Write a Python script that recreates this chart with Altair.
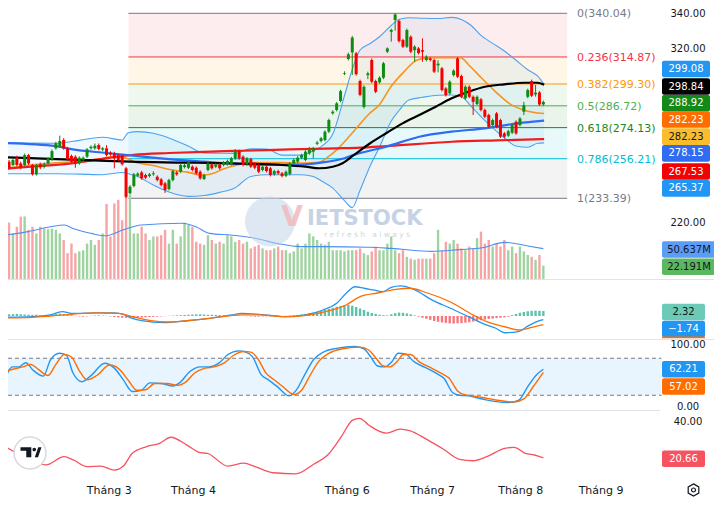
import altair as alt
import pandas as pd

# ---------------- candles (one per trading session) ----------------
OPEN = [254.5,252.6,256.8,253.5,252.6,258.3,252.6,247.2,253.0,251.6,
        253.5,255.8,262.2,263.1,267.0,262.2,257.8,257.4,253.5,255.5,
        257.4,262.2,262.2,264.1,261.4,262.2,259.7,259.3,258.3,257.9,
        250.7,236.3,240.5,246.4,248.3,246.8,246.2,247.2,245.8,244.3,
        242.0,238.7,243.9,248.3,248.7,251.4,251.0,251.6,251.0,248.7,
        244.5,249.7,253.0,251.6,253.0,252.6,253.0,253.0,256.4,260.6,
        257.4,253.0,256.0,253.5,252.6,249.7,251.6,250.7,247.2,249.1,
        247.8,246.4,247.4,253.5,254.5,256.8,255.5,259.3,260.3,264.8,
        266.4,267.0,271.8,282.4,284.3,289.5,305.2,313.7,317.5,317.0,
        301.0,286.0,304.4,313.1,301.0,300.2,302.9,317.9,329.4,336.2,
        335.6,324.6,320.8,326.5,318.8,319.8,318.8,313.1,314.0,313.1,
        310.0,308.3,296.7,293.9,304.4,314.0,303.9,291.0,297.7,291.9,
        287.7,290.4,284.3,281.4,275.6,282.3,278.5,270.8,269.5,271.2,
        277.5,275.6,283.3,291.9,301.0,293.3,294.4,287.5]
HIGH = [255.5,256.5,258.0,254.5,259.2,259.0,253.2,253.2,254.0,254.0,
        257.2,261.5,266.0,269.5,268.0,263.0,258.6,258.2,257.6,257.5,
        262.4,263.9,265.0,265.0,263.0,264.0,260.5,260.2,259.2,258.7,
        251.5,241.0,248.0,248.4,249.2,247.6,248.0,249.0,246.6,245.1,
        242.8,244.7,249.9,249.1,253.4,253.2,254.9,252.4,251.8,249.5,
        247.6,254.3,253.8,253.8,253.8,254.9,255.7,257.2,261.8,261.4,
        258.2,257.2,256.8,254.3,253.4,252.4,252.4,251.5,249.9,249.9,
        248.6,249.5,254.3,256.3,257.6,259.1,261.1,263.0,263.0,266.5,
        268.8,272.6,279.3,284.1,288.9,296.0,306.6,317.4,327.0,317.8,
        301.8,298.5,306.4,314.0,301.8,303.7,312.0,320.4,331.2,340.04,
        336.4,325.4,331.2,327.3,321.6,320.6,325.6,315.8,314.8,313.9,
        313.0,309.1,297.5,301.4,307.8,314.8,304.7,298.5,298.5,292.7,
        292.7,291.2,285.1,282.2,279.3,283.1,279.3,271.6,272.9,276.4,
        278.3,280.2,289.0,296.6,301.8,298.7,295.2,289.7]
LOW = [249.8,252.0,251.8,250.2,251.9,252.6,246.5,246.5,250.2,250.6,
       252.9,255.0,261.4,262.4,261.4,255.0,253.7,251.0,252.7,254.7,
       256.6,261.4,261.4,261.0,260.6,257.5,257.9,250.7,254.7,252.2,
       233.39,235.5,239.7,245.6,244.1,244.5,245.4,246.4,243.1,240.2,
       236.5,237.9,243.1,246.4,247.9,250.6,250.2,248.9,247.0,244.1,
       243.9,248.9,249.9,250.8,249.9,251.8,252.2,252.2,255.6,255.6,
       251.8,252.2,250.8,250.2,247.9,248.9,248.3,246.0,246.4,247.0,
       245.4,245.6,246.6,252.7,253.7,256.0,254.7,258.5,256.4,264.0,
       265.6,266.2,271.0,281.6,283.5,288.7,304.4,312.9,304.5,304.1,
       292.2,285.2,302.1,299.8,294.0,299.4,302.1,317.1,323.7,330.0,
       323.2,320.0,320.0,317.1,312.1,316.3,312.1,312.3,312.3,305.6,
       306.0,295.0,292.1,293.1,303.6,302.7,291.1,290.2,291.1,281.4,
       286.9,283.5,279.6,273.8,274.8,273.8,268.1,267.9,268.7,270.4,
       270.0,274.8,281.4,291.1,291.7,292.0,286.7,286.7]
CLOSE = [250.7,255.5,252.6,251.0,258.3,253.5,247.2,252.6,251.2,253.0,
         256.4,260.6,265.1,266.4,262.2,255.8,254.5,253.5,256.8,256.8,
         261.6,263.1,263.7,261.8,262.2,258.3,258.7,256.4,255.5,253.0,
         234.3,240.1,247.2,247.6,244.9,245.3,247.2,247.8,243.9,241.0,
         238.2,243.9,249.1,247.2,252.6,252.4,254.1,249.7,247.8,244.9,
         246.8,253.5,250.7,253.0,250.7,254.1,254.9,256.4,260.3,256.4,
         252.6,256.4,251.6,251.0,248.7,251.6,249.1,246.8,249.1,247.8,
         246.2,248.7,253.5,255.5,256.8,258.3,260.3,261.2,262.2,265.5,
         268.0,271.8,278.5,283.3,288.1,295.2,305.6,316.4,326.0,304.9,
         293.0,297.7,305.4,300.6,294.8,302.9,311.2,319.8,330.4,339.4,
         324.0,320.8,330.4,317.9,320.8,317.1,317.9,315.0,313.1,306.4,
         311.0,295.8,292.9,300.6,307.0,303.5,291.9,297.7,291.9,289.0,
         291.9,284.3,280.4,274.6,278.5,274.6,268.9,268.9,272.1,275.6,
         270.8,279.4,287.1,295.8,292.5,294.3,287.5,288.92]
VOLUME_M = [94,76,87,104,104,82,87,76,87,84,
            83,84,82,76,65,43,59,43,46,48,
            59,65,57,65,76,125,71,126,132,98,
            140,140,76,76,87,76,65,71,71,73,
            82,59,82,59,71,94,90,87,62,59,
            57,73,65,59,62,59,73,71,62,65,
            59,62,51,54,57,51,48,48,51,54,
            48,48,43,46,59,51,59,76,71,65,
            59,57,62,48,48,48,46,48,48,48,
            51,43,40,46,54,48,48,59,71,48,
            43,48,37,34,32,34,34,34,34,43,
            82,48,62,59,65,59,51,48,54,51,
            68,79,59,65,54,59,54,65,48,54,
            43,54,46,40,37,32,40,22.191]
MACD_HIST = [0.8,0.9,1.0,0.8,0.7,0.6,0.5,0.6,0.4,0.3,
             0.5,0.8,1.0,1.1,0.9,0.6,0.3,0.1,-0.2,-0.3,
             -0.2,0.1,0.2,0.3,0.2,0.1,-0.2,-0.5,-0.7,-0.8,
             -0.9,-1.0,-0.9,-0.8,-0.7,-0.6,-0.5,-0.4,-0.3,-0.2,
             -0.1,0.1,0.2,0.3,0.4,0.5,0.6,0.7,0.8,0.8,
             0.7,0.6,0.6,0.5,0.4,0.3,0.3,0.2,0.2,0.1,
             0.05,-0.1,-0.2,-0.3,-0.3,-0.2,-0.2,-0.3,-0.3,-0.2,
             -0.1,0.1,0.2,0.3,0.5,0.7,0.9,1.2,1.5,1.9,
             2.3,2.8,3.3,3.8,4.3,4.7,5.0,5.2,4.8,4.2,
             3.5,2.8,2.0,1.4,1.0,0.6,0.4,0.3,0.8,1.3,
             1.6,1.5,1.2,0.8,0.3,-0.3,-0.8,-1.3,-1.8,-2.3,
             -2.7,-3.0,-3.2,-3.4,-3.5,-3.4,-3.3,-3.1,-2.9,-2.6,
             -2.3,-2.0,-1.7,-1.4,-1.2,-1.0,-0.8,-0.6,-0.3,0.4,
             1.0,1.5,1.9,2.2,2.4,2.5,2.4,2.32]

# ---------------- indicator lines: bar position, value ----------------
BB_X = [-1,5,12,18,24,29,30.6,33,37,41,46,50,54,58,62,66,70,75,78,80,83,86,88,90,
        92.5,95,98,100,102.5,106,110,113.5,116,118.5,121,124,127,130,133,135.5,137.2]
BB_UPPER = [265.4,265.2,265.1,266.8,268.6,267.0,271.2,271.8,270.9,268.2,263.4,259.5,259.4,
            259.3,261.9,261.8,258.3,258.3,260.8,263.2,270.4,292.5,307.7,318.9,322.5,326.5,
            333.0,336.5,337.5,337.2,337.0,337.7,336.5,333.0,327.3,322.7,318.3,313.0,307.5,
            304.0,299.08]
BB_LOWER = [247.5,247.5,247.5,247.3,247.0,248.3,247.5,246.0,241.0,237.0,234.5,235.0,236.8,
            239.5,246.0,247.0,247.0,247.0,246.0,243.5,239.3,232.0,228.0,238.0,251.6,263.0,
            278.0,284.0,290.0,291.6,292.8,292.9,291.9,286.4,280.5,274.0,268.3,263.5,262.8,
            265.1,265.37]
BASIS_X = [-1,7.3,16,24.3,26.8,30,32.6,37,41.2,45.7,49.5,52,54.6,58.4,62.2,69.8,73.6,79.4,
           81.9,84.4,88,92.3,94.9,98,101.3,104.6,108,115.7,118.2,120.8,124.9,128.3,131.7,137.2]
BASIS = [250.7,253.0,254.5,256.4,257.4,256.5,254.0,252.3,250.0,248.5,246.8,247.5,250.0,252.6,
         254.0,254.0,253.7,254.2,257.4,262.2,271.0,282.0,287.2,298.0,306.4,313.1,314.5,314.5,
         309.5,303.5,294.5,288.0,284.5,282.23]
MA_BLACK_X = [-1,12,25,31,45,57,70,76,79.5,83,85.5,88.2,92.5,96.7,100.9,105.2,109.4,113.5,
              117.8,122,127,132.1,135.5,137.2]
MA_BLACK = [257.0,256.0,255.0,254.5,254.0,253.5,252.6,251.6,250.7,251.6,253.6,258.0,265.0,
            270.9,276.6,281.4,286.2,291.0,294.8,297.7,299.1,300.0,300.0,298.84]
MA_BLUE_X = [-1,12,16,25,33,41,50,58,66,74,80,86,88.2,96.7,105.2,113.5,122,130.4,137.2]
MA_BLUE = [265.3,263.5,261.7,259.5,257.7,256.0,254.5,253.3,252.8,252.8,254.0,256.5,258.3,
           263.1,268.9,271.8,273.7,276.6,278.15]
MA_RED_X = [-1,8,16,25,32,41,50,58,66,75,84,90,96.7,113.5,125,137.2]
MA_RED = [250.5,252.0,253.5,256.5,258.5,259.5,260.2,260.7,261.2,261.7,262.2,262.6,263.5,
          266.0,266.8,267.53]
VOL_MA_X = [-1,4.8,10.6,14.2,16.4,21.1,24.6,29.3,33.9,44.4,47.9,51.4,57.2,63.1,68.9,74.7,
            80.5,92.2,98,108.5,115.5,121.3,127.1,133,137]
VOL_MA = [73,79,87,90,84,76,72,82,90,93,87,76,73,68,59,54,54,53,51,46,49,52,61,55,50.637]
MACD_X = [-1,6,10.6,13.6,16.5,22.3,27,29.3,31.6,34,39.8,45.6,51.4,57.2,59.6,64.2,71.2,75.9,
          80.5,84,86.4,88.7,91,93.4,95.7,98,100.3,103.8,108.5,113.2,117.8,122.5,124.8,127.1,
          130.6,133,135.3,137]
MACD_LINE = [-0.6,-0.3,0.5,2.0,1.2,1.5,1.5,0.8,-1.1,-2.2,-3.1,-2.2,-1.1,0.5,1.2,0.8,-0.3,0.5,
             2.8,5.9,10.5,13.6,12.9,12.1,11.3,13.3,14.0,12.4,7.4,3.6,-0.3,-4.2,-5.7,-7.8,
             -7.3,-4.7,-2.6,-1.74]
SIGNAL_X = [-1,6,10.6,16.5,22.3,28.1,31.6,36.3,40.9,45.6,51.4,59.6,64.2,71.2,78.2,82.9,86.4,
            89.9,94.5,99.2,102.7,107.3,113.2,119,122.5,127.1,130.6,134.1,137]
SIGNAL = [-0.9,-0.6,0.0,0.9,1.5,1.2,-0.3,-2.2,-2.8,-2.2,-1.1,0.5,0.5,-0.3,0.9,2.8,5.1,8.9,
          10.7,12.4,12.9,10.7,6.5,0.5,-2.6,-5.0,-6.5,-5.3,-4.06]
K_X = [-0.4,0.8,2.5,4.3,6.1,8.8,10.6,12.9,14.7,16.4,18.7,21.2,24.5,27,29.3,31.6,33.9,36.1,
       39.2,42,43.7,46.3,49,51.3,53.8,56.1,58.9,60.7,62.4,64.7,66.5,68.8,71.8,73.6,75.8,78.1,
       80.6,83.9,88.7,91,92.8,94.5,96.3,98.1,99.8,101.6,103.9,106.7,109.7,111.5,113.8,115.5,
       117.8,121.3,124.9,128.2,130.7,133,135.2,137]
STOCH_K = [55.6,66,66,72.8,61,51,77,88,85,56,42,53,72,64,45,26,28,40,39,35,40,58,66,66,72,86,
           92,90,82.6,53,45,34,19,28,53,78,90,96,99,95,81.6,67.5,66,74,88,87,74,65,55,47.5,24,
           20,19,14,9.6,8,12,34,53,62.21]
D_X = [-0.4,1.5,3.5,5.5,7.5,10,12,14.2,16,18,20,22.5,25.8,28.3,30.6,32.8,35,37.4,40.5,43.3,
       45,47.6,50.3,52.6,55.1,57.4,60.2,62,63.7,66,67.8,70,73.1,75,77,79.4,82,85.2,90,92.3,94,
       95.8,97.6,99.4,101.1,102.9,105.2,108,111,112.8,115,116.8,119,122.6,126.2,129.5,132,
       134.3,137]
STOCH_D = [60,63,66,70,62,52,70,86,82,60,45,52,69,62,44,28,29,39,39,36,40,56,64,66,72,84,91,90,
           80,55,46,35,21,28,50,75,88,95,98,93,81,68,66,74,86,86,74,65,55,48,27,21,19,15,11,9,
           14,33,57.02]
ADX_X = [-1,1.3,4.2,9.5,14.1,16.5,20,23.5,27,29.3,31.6,35.1,38.6,41.5,45.6,49.1,50.8,56.1,
         60.2,63.1,67.7,73.5,78.2,81.7,85.2,88.1,89.9,92.2,96.8,100.3,102.7,107.3,111.4,115.5,
         119,122.5,127.1,129.5,132.4,134.7,137]
ADX = [26.5,23.9,20.5,17,21.3,19.6,16.1,16.4,14.3,16.4,23.1,26.5,28.3,31.5,27.4,23.4,23.1,
       16.4,17.9,16.1,12.9,12.3,17.5,22.2,31.8,40.5,41.4,37.9,33.6,35.7,34.9,30.1,25.2,19.9,
       19.2,21.3,25.7,26.2,23.1,22.2,20.66]

# ---------------- fibonacci drawing ----------------
FIB_HIGH, FIB_LOW = 340.04, 233.39
FIB_RATIOS = [0, 0.236, 0.382, 0.5, 0.618, 0.786, 1]
FIB_COLORS = ["#787b86", "#f23645", "#ff9800", "#4caf50", "#138a24", "#00bcd4", "#787b86"]
FIB_X0, FIB_X1 = 30.6, 143.1

# ---------------- axis text ----------------
MONTHS = ["Tháng 3", "Tháng 4", "Tháng 6", "Tháng 7", "Tháng 8", "Tháng 9"]
MONTH_POS = [25.7, 47.3, 86.7, 108.6, 131.2, 151.8]
PRICE_TICKS = [340, 320, 220]
STOCH_TICKS = [100, 0]
ADX_TICKS = [40]

PRICE_TAGS = ["299.08", "298.84", "288.92", "282.23", "282.23", "278.15", "267.53", "265.37"]
VOL_TAGS = ["50.637M", "22.191M"]
MACD_TAGS = ["2.32", "\u22121.74"]
STOCH_TAGS = ["62.21", "57.02"]
ADX_TAGS = ["20.66"]

for arr in (HIGH, LOW, CLOSE, VOLUME_M, MACD_HIST):
    assert len(arr) == len(OPEN), len(arr)

# ---------------- layout ----------------
OFF = 8                  # page margin
W, H = 706, 489
X0_REF, STEP = 4.0, 3.956
FONT = "DejaVu Sans"
GREEN, RED = "#0e8c12", "#f40000"


def R(v):
    return v - OFF


xs = alt.Scale(domain=[(OFF - X0_REF) / STEP, (W + OFF - X0_REF) / STEP], nice=False, zero=False)
ps = alt.Scale(domain=[FIB_LOW, FIB_HIGH], range=[R(198.3), R(13.3)], nice=False, zero=False)
vs = alt.Scale(domain=[0, 100], range=[R(279), R(219)], nice=False, zero=False)
ms = alt.Scale(domain=[-10, 15], range=[R(337.5), R(283.75)], nice=False, zero=False)
ss = alt.Scale(domain=[0, 100], range=[R(407.6), R(345.9)], nice=False, zero=False)
ascale = alt.Scale(domain=[10, 40], range=[R(478.3), R(421)], nice=False, zero=False)


def X(f):
    return alt.X(f + ":Q", scale=xs, axis=None)


def Y(f, s):
    return alt.Y(f + ":Q", scale=s, axis=None)


def line(xv, yv, s, color, width, dash=None):
    df = pd.DataFrame({"i": xv, "v": yv})
    kw = dict(color=color, strokeWidth=width, interpolate="monotone")
    if dash:
        kw["strokeDash"] = dash
    return alt.Chart(df).mark_line(**kw).encode(x=X("i"), y=Y("v", s))


layers = []

# candles table
cdf = pd.DataFrame({"i": list(range(len(OPEN))), "o": OPEN, "h": HIGH, "l": LOW, "c": CLOSE,
                    "vol": VOLUME_M, "hist": MACD_HIST})
cdf["zero"] = 0.0
up = cdf["c"] >= cdf["o"]
cdf["col"] = [GREEN if u else RED for u in up]
cdf["vcol"] = ["#9fd3a0" if u else "#f6a4a6" for u in up]
cdf["hcol"] = ["#5cc2ad" if v >= 0 else "#f7777c" for v in cdf["hist"]]

# fibonacci
levels = [FIB_HIGH - r * (FIB_HIGH - FIB_LOW) for r in FIB_RATIOS]
fib = pd.DataFrame({"lv": levels, "color": FIB_COLORS,
                    "label": [f"{r:g}({p + 1e-7:.2f})" for r, p in zip(FIB_RATIOS, levels)],
                    "x0": FIB_X0, "x1": FIB_X1})
bands = pd.DataFrame({"hi": levels[:-1], "lo": levels[1:], "color": FIB_COLORS[1:],
                      "x0": FIB_X0, "x1": FIB_X1})
layers.append(alt.Chart(bands).mark_rect(opacity=0.09).encode(
    x=X("x0"), x2="x1", y=Y("hi", ps), y2="lo", color=alt.Color("color:N", scale=None)))

# bollinger fill
bb = pd.DataFrame({"i": BB_X, "up": BB_UPPER, "lo": BB_LOWER})
layers.append(alt.Chart(bb).mark_area(color="#2196f3", opacity=0.07, interpolate="monotone").encode(
    x=X("i"), y=Y("up", ps), y2="lo"))

# fib lines
layers.append(alt.Chart(fib).mark_rule(strokeWidth=1).encode(
    x=X("x0"), x2="x1", y=Y("lv", ps), color=alt.Color("color:N", scale=None)))

# volume
layers.append(alt.Chart(cdf).mark_bar(size=2.4).encode(
    x=X("i"), y=Y("vol", vs), y2="zero", color=alt.Color("vcol:N", scale=None)))
layers.append(line(VOL_MA_X, VOL_MA, vs, "#4b8ff0", 1.1))

# watermark
wm = pd.DataFrame({"a": [0]})
layers.append(alt.Chart(wm).mark_point(shape="circle", filled=True, size=2500, color="#c3d5ea",
                                       opacity=0.55).encode(x=alt.value(R(270)), y=alt.value(R(221.5))))
layers.append(alt.Chart(wm).mark_text(text="V", font=FONT, fontWeight="bold", fontSize=28,
                                      color="#f3b5b8", opacity=0.8).encode(
    x=alt.value(R(292)), y=alt.value(R(218))))
layers.append(alt.Chart(wm).mark_text(text="IETSTOCK", font=FONT, fontWeight="bold", fontSize=21,
                                      color="#c6d3e5", align="left", baseline="middle").encode(
    x=alt.value(R(307)), y=alt.value(R(219))))
layers.append(alt.Chart(wm).mark_text(text="\u00a0".join("refresh") + "\u00a0\u00a0\u00a0" + "\u00a0".join("always"),
                                      font=FONT, fontSize=7.5,
                                      color="#cfd6df", align="center", baseline="middle").encode(
    x=alt.value(R(367)), y=alt.value(R(235))))

# bands and moving averages
layers.append(line(BB_X, BB_UPPER, ps, "#4da3ef", 1.1))
layers.append(line(BB_X, BB_LOWER, ps, "#4da3ef", 1.1))
layers.append(line(BASIS_X, BASIS, ps, "#f7931e", 1.6))
layers.append(line(MA_RED_X, MA_RED, ps, "#f01d1d", 2.2))
layers.append(line(MA_BLUE_X, MA_BLUE, ps, "#2f6cf2", 2.2))
layers.append(line(MA_BLACK_X, MA_BLACK, ps, "#000000", 2.2))

# candles
layers.append(alt.Chart(cdf).mark_rule(strokeWidth=1).encode(
    x=X("i"), y=Y("l", ps), y2="h", color=alt.Color("col:N", scale=None)))
layers.append(alt.Chart(cdf).mark_bar(size=3).encode(
    x=X("i"), y=Y("o", ps), y2="c", color=alt.Color("col:N", scale=None)))

# fib labels
layers.append(alt.Chart(fib).mark_text(font=FONT, fontSize=11, align="left", baseline="middle",
                                       dy=1).encode(
    x=alt.value(R(577)), y=Y("lv", ps), text="label:N", color=alt.Color("color:N", scale=None)))

# pane separators
for yref in (279.5, 339.5, 410.5):
    layers.append(alt.Chart(wm).mark_rule(color="#e0e3eb", strokeWidth=1).encode(
        x=alt.value(0), x2=alt.value(W), y=alt.value(R(yref))))

# MACD
layers.append(alt.Chart(cdf).mark_bar(size=2.4).encode(
    x=X("i"), y=Y("hist", ms), y2="zero", color=alt.Color("hcol:N", scale=None)))
layers.append(line(MACD_X, MACD_LINE, ms, "#2196f3", 1.3))
layers.append(line(SIGNAL_X, SIGNAL, ms, "#ff6d00", 1.3))

# Stochastic
sb = pd.DataFrame({"lo": [20], "hi": [80]})
layers.append(alt.Chart(sb).mark_rect(color="#2196f3", opacity=0.1).encode(
    x=alt.value(0), x2=alt.value(R(661.5)), y=Y("hi", ss), y2="lo"))
sl = pd.DataFrame({"v": [20, 80]})
layers.append(alt.Chart(sl).mark_rule(color="#787b86", strokeWidth=1, strokeDash=[4, 3]).encode(
    x=alt.value(0), x2=alt.value(R(661.5)), y=Y("v", ss)))
layers.append(line(K_X, STOCH_K, ss, "#2196f3", 1.4))
layers.append(line(D_X, STOCH_D, ss, "#ff6d00", 1.4))

# ADX-like line
layers.append(line(ADX_X, ADX, ascale, "#f7525f", 1.3))


# right axis labels
def ticks(vals, s, dy=0.0, fmt="{:.2f}"):
    df = pd.DataFrame({"v": vals, "t": [fmt.format(v) for v in vals]})
    return alt.Chart(df).mark_text(font=FONT, fontSize=10, color="#131722", align="center",
                                   baseline="middle", dy=dy).encode(
        x=alt.value(R(688)), y=Y("v", s), text="t:N")


layers.append(ticks(PRICE_TICKS, ps, dy=1))
layers.append(ticks(STOCH_TICKS, ss, dy=-0.5))
layers.append(alt.Chart(wm).mark_rect(color="#ffffff").encode(
    x=alt.value(R(660)), x2=alt.value(W), y=alt.value(R(410)), y2=alt.value(R(416))))
layers.append(ticks(ADX_TICKS, ascale, dy=0.5))


def tags(texts, bgs, fgs, ycs, x0, x1, hh=8.3):
    df = pd.DataFrame({"t": texts, "bg": bgs, "fg": fgs})
    df["y0"] = [R(y - hh) for y in ycs]
    df["y1"] = [R(y + hh) for y in ycs]
    df["yc"] = [R(y) for y in ycs]
    r = alt.Chart(df).mark_rect(cornerRadius=2).encode(
        x=alt.value(R(x0)), x2=alt.value(R(x1)), y=alt.Y("y0:Q", scale=None), y2="y1",
        color=alt.Color("bg:N", scale=None))
    t = alt.Chart(df).mark_text(font=FONT, fontSize=10, align="center", baseline="middle").encode(
        x=alt.value(R((x0 + x1) / 2)), y=alt.Y("yc:Q", scale=None), text="t:N",
        color=alt.Color("fg:N", scale=None))
    return [r, t]


W_, K_ = "#ffffff", "#131722"
layers += tags(PRICE_TAGS,
               ["#2196f3", "#000000", "#138a17", "#ff6d00", "#fbbd2c", "#2f6cf2", "#f40000", "#2196f3"],
               [W_, W_, W_, W_, K_, W_, W_, W_],
               [69, 86.5, 103.2, 119.5, 136.6, 153.4, 171.5, 188.4], 662, 710)
layers += tags(VOL_TAGS, ["#5b9cf6", "#5cb860"], [K_, K_], [249.5, 266.7], 662, 716)
layers += tags(MACD_TAGS, ["#6ccab6", "#2196f3"], [K_, W_], [312.0, 329.0], 662, 705)
layers.append(alt.Chart(wm).mark_rect(color="#ff6d00").encode(
    x=alt.value(R(662)), x2=alt.value(R(705)), y=alt.value(R(336.6)), y2=alt.value(R(338.3))))
layers += tags(STOCH_TAGS, ["#2196f3", "#ff6d00"], [W_, W_], [369.3, 386.5], 662, 705)
layers += tags(ADX_TAGS, ["#f7525f"], [W_], [458.7], 662, 705)

# month labels
mdf = pd.DataFrame({"i": MONTH_POS, "t": MONTHS})
layers.append(alt.Chart(mdf).mark_text(font=FONT, fontSize=11, color="#131722", align="center",
                                       baseline="middle").encode(x=X("i"), y=alt.value(R(491)), text="t:N"))

# TradingView badge
layers.append(alt.Chart(wm).mark_point(shape="circle", filled=True, size=1024, fill="#ffffff",
                                       stroke="#d6d9e0", strokeWidth=1.5, opacity=1).encode(
    x=alt.value(R(30)), y=alt.value(R(453))))
TV_PATH = ("M-1,-0.48L0.03,-0.48L0.03,0.48L-0.45,0.48L-0.45,-0.15L-1,-0.15Z "
           "M0.14,-0.27A0.17,0.17 0 1,0 0.48,-0.27A0.17,0.17 0 1,0 0.14,-0.27Z "
           "M0.36,0.48L0.67,0.48L1,-0.48L0.69,-0.48Z")
layers.append(alt.Chart(wm).mark_point(shape=TV_PATH, filled=True, size=441, color="#131722",
                                       opacity=1).encode(x=alt.value(R(31)), y=alt.value(R(452.3))))
# settings icon
HEX = "M0,-1L0.866,-0.5L0.866,0.5L0,1L-0.866,0.5L-0.866,-0.5Z"
layers.append(alt.Chart(wm).mark_point(shape=HEX, filled=False, size=150, color="#131722",
                                       strokeWidth=1.2, opacity=1).encode(
    x=alt.value(R(693.5)), y=alt.value(R(490))))
layers.append(alt.Chart(wm).mark_point(shape="circle", filled=False, size=16, color="#131722",
                                       strokeWidth=1.2, opacity=1).encode(
    x=alt.value(R(693.5)), y=alt.value(R(490))))

chart = alt.layer(*layers).resolve_scale(y="independent").properties(
    width=W, height=H, autosize=alt.AutoSizeParams(type="none"), padding=0,
    background="#ffffff").configure_view(stroke=None)

chart.save("out.html", embed_options={"renderer": "svg", "actions": False})
